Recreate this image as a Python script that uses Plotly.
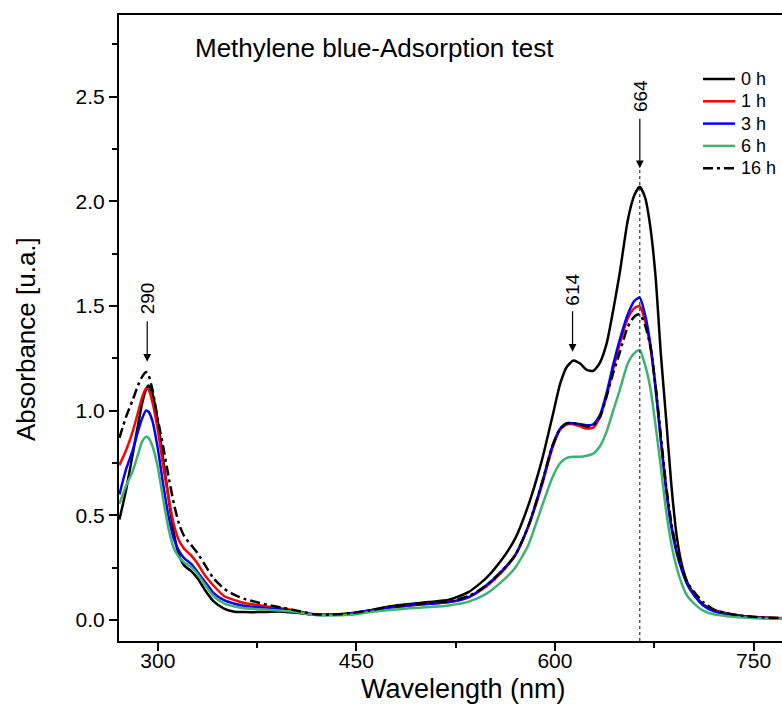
import plotly.graph_objects as go

# ---------------- data ----------------
wavelength = [
    271, 276, 281, 285, 288, 291, 293, 296, 300, 304,
    308, 312, 316, 320, 325, 330, 336, 342, 350, 358,
    366, 375, 385, 395, 405, 418, 430, 445, 460, 475,
    490, 505, 520, 535, 548, 560, 570, 580, 590, 598,
    604, 609, 614, 619, 624, 629, 634, 639, 644, 649,
    655, 660, 664, 668, 672, 676, 680, 684, 688, 692,
    696, 700, 705, 712, 720, 730, 742, 756, 772,
]

abs_0h = [
    0.48, 0.62, 0.79, 0.93, 1.03, 1.10, 1.12, 1.08, 0.95, 0.77,
    0.59, 0.42, 0.31, 0.26, 0.235, 0.20, 0.14, 0.09, 0.055, 0.04,
    0.038, 0.038, 0.04, 0.04, 0.035, 0.025, 0.025, 0.032, 0.047, 0.065,
    0.077, 0.086, 0.097, 0.135, 0.20, 0.29, 0.39, 0.55, 0.76, 0.97,
    1.13, 1.21, 1.24, 1.225, 1.195, 1.19, 1.23, 1.32, 1.48, 1.66,
    1.91, 2.03, 2.07, 2.02, 1.88, 1.64, 1.27, 0.96, 0.64, 0.40,
    0.26, 0.18, 0.125, 0.075, 0.048, 0.032, 0.02, 0.012, 0.008,
]

abs_1h = [
    0.74, 0.81, 0.90, 0.99, 1.06, 1.105, 1.10, 1.04, 0.91, 0.74,
    0.59, 0.46, 0.38, 0.34, 0.31, 0.27, 0.21, 0.165, 0.115, 0.095,
    0.08, 0.072, 0.063, 0.055, 0.042, 0.027, 0.025, 0.03, 0.044, 0.06,
    0.07, 0.078, 0.086, 0.11, 0.16, 0.23, 0.31, 0.45, 0.64, 0.82,
    0.91, 0.935, 0.935, 0.925, 0.915, 0.92, 0.97, 1.07, 1.20, 1.32,
    1.44, 1.49, 1.50, 1.43, 1.31, 1.11, 0.86, 0.63, 0.45, 0.33,
    0.24, 0.17, 0.12, 0.072, 0.045, 0.03, 0.018, 0.012, 0.008,
]

abs_3h = [
    0.60, 0.72, 0.81, 0.90, 0.96, 1.00, 0.995, 0.95, 0.82, 0.65,
    0.50, 0.39, 0.33, 0.295, 0.27, 0.23, 0.18, 0.13, 0.095, 0.078,
    0.067, 0.062, 0.055, 0.05, 0.04, 0.027, 0.025, 0.03, 0.044, 0.06,
    0.07, 0.078, 0.086, 0.11, 0.165, 0.235, 0.31, 0.45, 0.65, 0.83,
    0.915, 0.94, 0.94, 0.935, 0.93, 0.935, 0.98, 1.085, 1.22, 1.34,
    1.46, 1.525, 1.54, 1.46, 1.32, 1.11, 0.86, 0.62, 0.44, 0.32,
    0.235, 0.17, 0.12, 0.07, 0.042, 0.028, 0.017, 0.011, 0.008,
]

abs_6h = [
    0.555, 0.64, 0.71, 0.79, 0.85, 0.875, 0.87, 0.83, 0.73, 0.58,
    0.44, 0.345, 0.30, 0.275, 0.255, 0.22, 0.165, 0.115, 0.08, 0.065,
    0.056, 0.052, 0.048, 0.045, 0.038, 0.025, 0.022, 0.025, 0.038, 0.048,
    0.056, 0.062, 0.07, 0.088, 0.125, 0.185, 0.25, 0.36, 0.54, 0.68,
    0.75, 0.775, 0.78, 0.78, 0.785, 0.795, 0.83, 0.90, 1.00, 1.10,
    1.225, 1.275, 1.29, 1.22, 1.11, 0.93, 0.73, 0.52, 0.36, 0.25,
    0.17, 0.115, 0.08, 0.045, 0.027, 0.018, 0.012, 0.008, 0.006,
]

abs_16h = [
    0.87, 0.97, 1.05, 1.12, 1.16, 1.185, 1.17, 1.10, 0.96, 0.83,
    0.69, 0.56, 0.46, 0.40, 0.36, 0.32, 0.26, 0.20, 0.15, 0.12,
    0.10, 0.085, 0.07, 0.058, 0.045, 0.028, 0.026, 0.032, 0.046, 0.063,
    0.074, 0.082, 0.09, 0.115, 0.165, 0.235, 0.31, 0.45, 0.65, 0.83,
    0.915, 0.94, 0.94, 0.935, 0.925, 0.93, 0.97, 1.07, 1.18, 1.28,
    1.40, 1.45, 1.46, 1.41, 1.31, 1.12, 0.88, 0.64, 0.46, 0.33,
    0.245, 0.18, 0.135, 0.085, 0.05, 0.032, 0.02, 0.013, 0.009,
]

series_names = ["0 h", "1 h", "3 h", "6 h", "16 h"]
series_values = [abs_0h, abs_1h, abs_3h, abs_6h, abs_16h]
series_colors = ["#000000", "#FF0000", "#0000FF", "#3CB371", "#000000"]
series_dash = ["solid", "solid", "solid", "solid", "10px,4px,3px,4px"]

x_ticks = [300, 450, 600, 750]
y_ticks = [0.0, 0.5, 1.0, 1.5, 2.0, 2.5]

# peak markers
peak_labels = ["290", "614", "664"]
peak_wl = [292, 613.3, 664.1]
peak_tip = [1.234, 1.281, 2.158]
peak_arrow_len = [42, 42, 51]
peak_text_y = [1.538, 1.576, 2.502]

FONT = "Liberation Sans, Arial, sans-serif"

# plot-area geometry (px) used to place paper-referenced items
L, R, T, B = 119, 782, 15, 641
PW, PH = R - L, B - T


def px_x(px):
    return (px - L) / PW


def px_y(py):
    return (B - py) / PH


fig = go.Figure()
for name, ys, col, dsh in zip(series_names, series_values, series_colors, series_dash):
    fig.add_trace(go.Scatter(
        x=wavelength, y=ys, mode="lines", name=name, showlegend=False,
        line=dict(color=col, width=2.5, dash=dsh, shape="spline", smoothing=0.6),
    ))

shapes = []
# dashed vertical line at 664 nm
shapes.append(dict(type="line", xref="x", yref="y",
                   x0=peak_wl[2], x1=peak_wl[2], y0=-0.1, y1=peak_tip[2],
                   line=dict(color="black", width=1, dash="3px,3px")))

annotations = []
for lab, wl, tip, alen, ty in zip(peak_labels, peak_wl, peak_tip, peak_arrow_len, peak_text_y):
    annotations.append(dict(x=wl, y=tip, xref="x", yref="y", text="", showarrow=True,
                            ax=0, ay=-alen, arrowhead=2, arrowsize=1.3, arrowwidth=1.2,
                            arrowcolor="black"))
    annotations.append(dict(x=wl, y=ty, xref="x", yref="y", text=lab, showarrow=False,
                            textangle=-90, font=dict(family=FONT, size=19, color="black")))

# legend (drawn manually for exact spacing)
legend_y0, legend_dy = 79, 22.3
for i, (name, col, dsh) in enumerate(zip(series_names, series_colors, series_dash)):
    yy = px_y(legend_y0 + i * legend_dy)
    shapes.append(dict(type="line", xref="paper", yref="paper",
                       x0=px_x(703), x1=px_x(735), y0=yy, y1=yy,
                       line=dict(color=col, width=2.5, dash=dsh)))
    annotations.append(dict(x=px_x(739), y=yy, xref="paper", yref="paper", text=name,
                            showarrow=False, xanchor="left", yanchor="middle",
                            font=dict(family=FONT, size=18, color="black")))

annotations.append(dict(x=px_x(193), y=px_y(48), xref="paper", yref="paper",
                        text="Methylene blue-Adsorption test", showarrow=False,
                        xanchor="left", yanchor="middle",
                        font=dict(family=FONT, size=26, color="black")))
annotations.append(dict(x=px_x(463), y=px_y(689), xref="paper", yref="paper",
                        text="Wavelength (nm)", showarrow=False,
                        xanchor="center", yanchor="middle",
                        font=dict(family=FONT, size=27, color="black")))
annotations.append(dict(x=px_x(26), y=px_y(339), xref="paper", yref="paper",
                        text="Absorbance [u.a.]", showarrow=False, textangle=-90,
                        xanchor="center", yanchor="middle",
                        font=dict(family=FONT, size=26, color="black")))

fig.update_layout(
    width=782, height=725,
    margin=dict(l=L, r=782 - R, t=T, b=725 - B, pad=0),
    paper_bgcolor="white", plot_bgcolor="white",
    font=dict(family=FONT, color="black"),
    annotations=annotations,
    shapes=shapes,
    showlegend=False,
)

fig.update_xaxes(range=[270.7, 771.5], tickvals=x_ticks, ticks="outside", ticklen=8,
                 tickwidth=2, tickcolor="black", showline=True, linewidth=2, linecolor="black",
                 mirror=True, showgrid=False, zeroline=False, ticklabelstandoff=-8,
                 tickfont=dict(family=FONT, size=21),
                 minor=dict(dtick=75, tick0=300, ticks="outside", ticklen=5, tickwidth=2,
                            tickcolor="black", showgrid=False))
fig.update_yaxes(range=[-0.1, 2.89], tickvals=y_ticks, tickformat=".1f", ticks="outside",
                 ticklen=8, tickwidth=2, tickcolor="black", showline=True, linewidth=2,
                 linecolor="black", mirror=False, showgrid=False, zeroline=False,
                 tickfont=dict(family=FONT, size=21),
                 minor=dict(dtick=0.25, tick0=0, ticks="outside", ticklen=5, tickwidth=2,
                            tickcolor="black", showgrid=False))

fig.write_html("out.html")
